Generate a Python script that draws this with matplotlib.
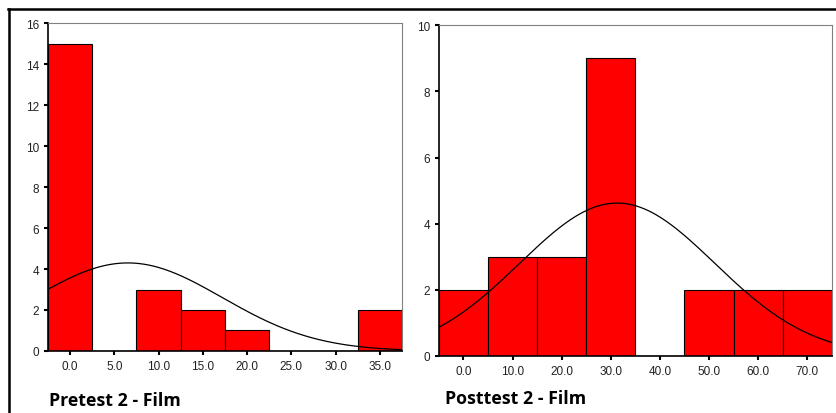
import numpy as np
import matplotlib.pyplot as plt
from matplotlib.lines import Line2D

# Pretest 2 - Film: bin centres and counts
pre_centers = [0, 5, 10, 15, 20, 25, 30, 35]
pre_counts = [15, 0, 3, 2, 1, 0, 0, 2]
pre_ticks = [0, 5, 10, 15, 20, 25, 30, 35]

# Posttest 2 - Film
post_centers = [0, 10, 20, 30, 40, 50, 60, 70]
post_counts = [2, 3, 3, 9, 0, 2, 2, 2]
post_ticks = [0, 10, 20, 30, 40, 50, 60, 70]

titles = ['Pretest 2 - Film', 'Posttest 2 - Film']


def normal_curve(centers, counts, width, x):
    # fitted normal, scaled to counts
    c = np.array(centers, float)
    n = np.array(counts, float)
    total = n.sum()
    mean = (c * n).sum() / total
    sd = np.sqrt(((c - mean) ** 2 * n).sum() / total)
    return total * width / (sd * np.sqrt(2 * np.pi)) * np.exp(-0.5 * ((x - mean) / sd) ** 2)


def panel(ax, centers, counts, width, ticks, ymax, ystep):
    ax.bar(centers, counts, width=width, color='#ff0000', edgecolor='black', linewidth=0.8)
    lo = centers[0] - width / 2
    hi = centers[-1] + width / 2
    x = np.linspace(lo, hi, 300)
    ax.plot(x, normal_curve(centers, counts, width, x), color='black', linewidth=0.9)
    ax.set_xlim(lo, hi)
    ax.set_ylim(0, ymax)
    ax.set_xticks(ticks)
    ax.set_xticklabels([f'{t:.1f}' for t in ticks])
    ax.set_yticks(np.arange(0, ymax + 1, ystep))
    for s in ['top', 'right']:
        ax.spines[s].set_color('#808080')
        ax.spines[s].set_linewidth(0.8)
    for s in ['left', 'bottom']:
        ax.spines[s].set_color('black')
        ax.spines[s].set_linewidth(1.2)
    ax.tick_params(axis='both', direction='out', length=3, width=1.5, color='black',
                   labelsize=8.5, labelcolor='#222222')
    for lab in ax.get_xticklabels() + ax.get_yticklabels():
        lab.set_fontfamily('Liberation Sans')


fig = plt.figure(figsize=(8.36, 4.14), dpi=100)
ax1 = fig.add_axes([0.0574, 0.1498, 0.4234, 0.792])
ax2 = fig.add_axes([0.525, 0.1377, 0.470, 0.799])

panel(ax1, pre_centers, pre_counts, 5, pre_ticks, 16, 2)
panel(ax2, post_centers, post_counts, 10, post_ticks, 10, 2)

fig.text(49 / 836, 1 - 406 / 414, titles[0], fontsize=12.8, family='Open Sans',
         fontweight='bold', va='baseline', ha='left')
fig.text(445 / 836, 1 - 404 / 414, titles[1], fontsize=12.8, family='Open Sans',
         fontweight='bold', va='baseline', ha='left')

# outer frame (top and left edges)
fig.add_artist(Line2D([8 / 836, 1], [1 - 10 / 414] * 2, color='black', linewidth=1.8,
                      transform=fig.transFigure))
fig.add_artist(Line2D([9 / 836] * 2, [0, 1 - 10 / 414], color='black', linewidth=1.8,
                      transform=fig.transFigure))

fig.savefig('out.png', dpi=100)
